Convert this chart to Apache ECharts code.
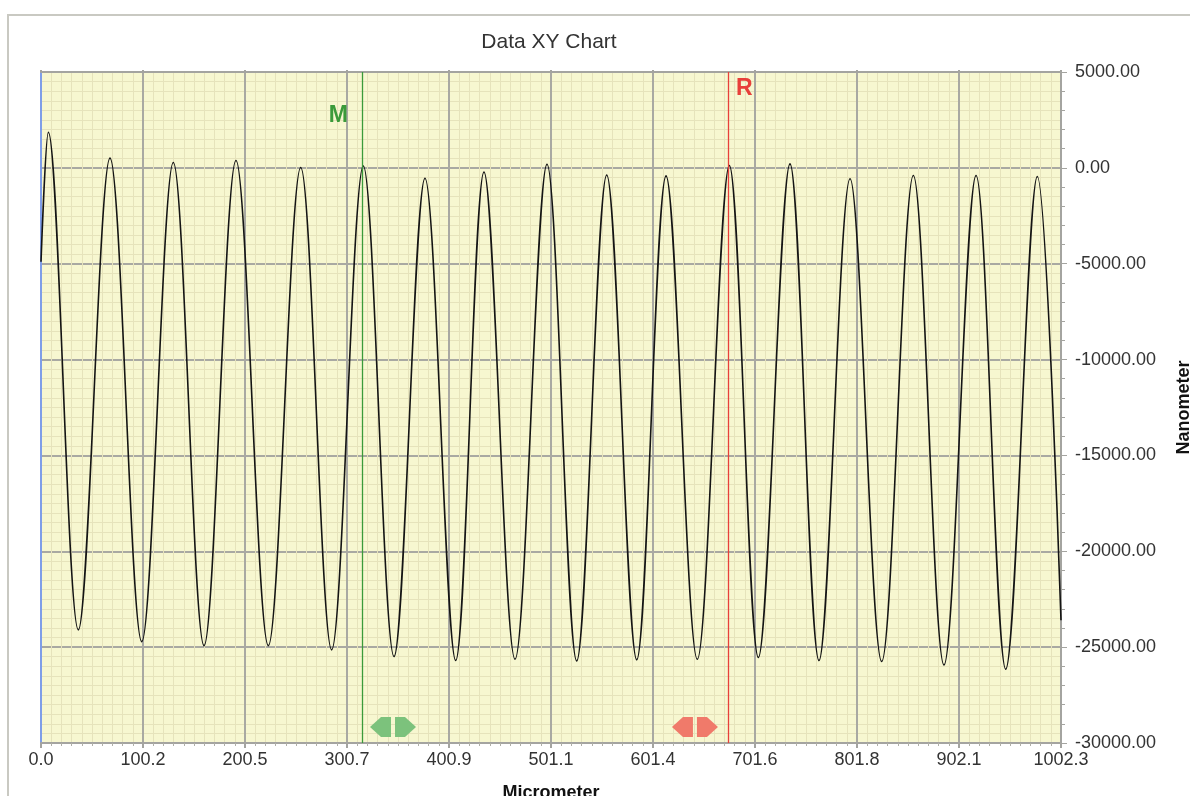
<!DOCTYPE html>
<html><head><meta charset="utf-8">
<script src="https://cdn.jsdelivr.net/npm/echarts@6/dist/echarts.min.js"></script>
<style>html,body{margin:0;padding:0;background:#fff;overflow:hidden}#c{width:1190px;height:796px}</style>
</head><body><div id="c"></div>
<script>
// Profile: alternating peaks / troughs (micrometer, nanometer)
const micrometer = [0.0, 7.2, 36.7, 67.8, 99.0, 130.0, 160.2, 191.6, 223.4, 255.2, 285.6, 316.7, 346.9, 377.3, 407.5,
  435.3, 465.8, 497.2, 526.4, 555.9, 585.4, 614.2, 644.9, 676.4, 704.9, 736.0, 764.5, 795.0, 826.1,
  857.2, 887.3, 918.8, 948.0, 979.0, 1002.3];
const nanometer = [-4900, 1860, -24100, 510, -24710, 280, -24920, 380, -24920, 20, -25140, 100, -25490, -540, -25700,
  -220, -25630, 190, -25720, -370, -25660, -420, -25630, 120, -25540, 210, -25700, -570, -25750,
  -400, -25930, -400, -26150, -450, -23600];
const xTickLabels = ['0.0', '100.2', '200.5', '300.7', '400.9', '501.1', '601.4', '701.6', '801.8', '902.1', '1002.3'];
const markerNames = ['M', 'R'];
const markerPositions = [315.7, 675.4];
const handlePositions = [345.9, 642.6];

const X_MAX = 1002.3, X_INT = 100.23;
const Y_MIN = -30000, Y_MAX = 5000;
const FONT = "'Liberation Sans', Arial, sans-serif";
const gridGray = '#a9a9a2';
const minorCol = '#e6e3bb';
const markerColors = ['#3a9a3a', '#e8403a'];
const handleColors = ['#7cc27c', '#f07a6a'];

const chart = echarts.init(document.getElementById('c'), null, {renderer: 'canvas', width: 1190, height: 796});
const option = {
  animation: false,
  backgroundColor: '#ffffff',
  title: {
    text: 'Data XY Chart', left: 549, top: 32, textAlign: 'center', padding: 0,
    textStyle: {fontSize: 21, fontWeight: 'normal', color: '#333', fontFamily: FONT}
  },
  grid: {left: 41, right: 129, top: 72, bottom: 53, show: true, backgroundColor: '#f7f7d0', borderWidth: 0,
    containLabel: false, outerBoundsMode: 'none'},
  xAxis: [{
    type: 'value', position: 'bottom', min: 0, max: X_MAX, interval: X_INT,
    axisLine: {show: true, onZero: false, lineStyle: {color: '#a4a4a0', width: 2}},
    axisTick: {show: true, length: 5, lineStyle: {color: '#a4a4a0', width: 2}},
    minorTick: {show: true, splitNumber: 10, length: 3, lineStyle: {color: '#b0b0a8'}},
    splitLine: {show: true, lineStyle: {color: gridGray, width: 2}},
    minorSplitLine: {show: true, lineStyle: {color: minorCol, width: 1}},
    axisLabel: {
      formatter: v => xTickLabels[Math.round(v / X_INT)],
      color: '#333', fontSize: 18, margin: 8, fontFamily: FONT, showMinLabel: true, showMaxLabel: true
    },
    name: 'Micrometer', nameLocation: 'middle', nameGap: 41,
    nameTextStyle: {fontWeight: 'bold', fontSize: 18, color: '#111', fontFamily: FONT}
  }, {
    type: 'value', position: 'top', min: 0, max: X_MAX, interval: X_INT,
    axisLine: {show: true, onZero: false, lineStyle: {color: '#a4a4a0', width: 2}},
    axisTick: {show: true, length: 2, inside: false, lineStyle: {color: '#a4a4a0', width: 2}},
    axisLabel: {show: false}, splitLine: {show: false}
  }],
  yAxis: [{
    type: 'value', position: 'right', min: Y_MIN, max: Y_MAX, interval: 5000,
    axisLine: {show: true, onZero: false, lineStyle: {color: '#a4a4a0', width: 2}},
    axisTick: {show: true, length: 6, lineStyle: {color: '#a4a4a0', width: 1}},
    minorTick: {show: false, splitNumber: 10},
    splitLine: {show: true, lineStyle: {color: gridGray, width: 2}},
    minorSplitLine: {show: true, lineStyle: {color: minorCol, width: 1}},
    axisLabel: {formatter: v => v.toFixed(2), color: '#333', fontSize: 18, margin: 14, fontFamily: FONT},
    name: 'Nanometer', nameLocation: 'middle', nameRotate: 90, nameGap: 114,
    nameTextStyle: {fontWeight: 'bold', fontSize: 18, color: '#111', fontFamily: FONT}
  }, {
    type: 'value', position: 'right', min: Y_MIN, max: Y_MAX, interval: 1000,
    axisLine: {show: false, onZero: false},
    axisTick: {show: true, length: 4, lineStyle: {color: '#a4a4a0', width: 1}},
    axisLabel: {show: false}, splitLine: {show: false}
  }, {
    type: 'value', position: 'left', min: Y_MIN, max: Y_MAX, interval: 5000,
    axisLine: {show: true, onZero: false, lineStyle: {color: '#7f9ee8', width: 2}},
    axisTick: {show: false}, axisLabel: {show: false}, splitLine: {show: false}
  }],
  series: [{
    type: 'line', xAxisIndex: 0, yAxisIndex: 0,
    data: micrometer.map((x, i) => [x, nanometer[i]]),
    smooth: 0.34, showSymbol: false, symbol: 'none',
    lineStyle: {color: '#141414', width: 1.6},
    z: 3,
    markLine: {
      silent: true, symbol: 'none', label: {show: false}, animation: false,
      data: markerPositions.map((p, i) => ({xAxis: p, lineStyle: {color: markerColors[i], width: 1.3, type: 'solid'}}))
    }
  }]
};
chart.setOption(option);

// annotations placed through the axis scale
const yTop = chart.convertToPixel({yAxisIndex: 0}, Y_MAX);
const yBot = chart.convertToPixel({yAxisIndex: 0}, Y_MIN);
const graphics = [{
  type: 'rect', silent: true, z: -1,
  shape: {x: 8, y: 15, width: 1200, height: 800},
  style: {fill: 'none', stroke: '#c9c9c2', lineWidth: 2}
}];
markerNames.forEach((n, i) => {
  const px = chart.convertToPixel({xAxisIndex: 0}, markerPositions[i]);
  graphics.push({
    type: 'text', silent: true, z: 10,
    x: i === 0 ? px - 24 : px + 16, y: i === 0 ? yTop + 44 : yTop + 17,
    style: {text: n, fill: markerColors[i], font: "bold 23px " + FONT, textAlign: 'center', textVerticalAlign: 'middle'}
  });
});
handlePositions.forEach((h, i) => {
  const cx = chart.convertToPixel({xAxisIndex: 0}, h);
  const cy = yBot - 16;
  graphics.push({
    type: 'polygon', silent: true, z: 10,
    shape: {points: [[cx - 23, cy], [cx - 12, cy - 10], [cx - 2, cy - 10], [cx - 2, cy + 10], [cx - 12, cy + 10]]},
    style: {fill: handleColors[i]}
  });
  graphics.push({
    type: 'polygon', silent: true, z: 10,
    shape: {points: [[cx + 23, cy], [cx + 12, cy - 10], [cx + 2, cy - 10], [cx + 2, cy + 10], [cx + 12, cy + 10]]},
    style: {fill: handleColors[i]}
  });
});
chart.setOption({graphic: graphics});
</script>
</body></html>
